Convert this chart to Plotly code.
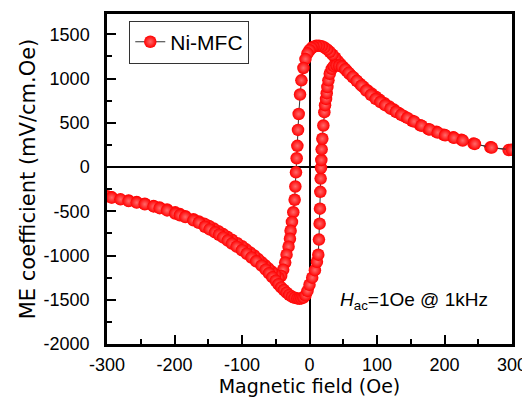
import plotly.graph_objects as go

# Descending sweep (+300 -> -300 Oe)
H_down = [295, 268, 243, 225, 213, 199, 188, 176, 164, 152, 140, 132, 125, 118, 111, 104,
          98, 92, 86, 80, 75, 70, 65, 60, 55, 50, 46, 42, 38, 34, 30, 26, 22, 18, 14, 10,
          6, 3, 0, -3, -6, -9, -12, -14, -16, -17, -18, -19, -20, -21, -22, -24, -26, -28,
          -29, -31, -34, -36, -39, -42, -46, -51, -56, -61, -66, -71, -76, -82, -88, -94,
          -100, -107, -115, -122, -128, -135, -142, -149, -156, -164, -172, -184, -192,
          -199, -211, -222, -231, -244, -256, -268, -293]
ME_down = [192, 223, 265, 310, 336, 365, 398, 428, 473, 522, 575, 612, 650, 685, 722, 760,
           795, 830, 865, 905, 940, 975, 1010, 1048, 1088, 1128, 1162, 1198, 1235, 1270,
           1302, 1330, 1352, 1366, 1372, 1370, 1360, 1345, 1320, 1285, 1220, 1120, 980, 820,
           600, 420, 240, 100, -60, -220, -370, -510, -620, -720, -810, -900, -990, -1080,
           -1160, -1230, -1250, -1215, -1180, -1145, -1110, -1075, -1040, -1000, -965, -930,
           -895, -860, -822, -788, -758, -725, -695, -665, -640, -615, -590, -555, -532,
           -512, -480, -458, -440, -415, -396, -378, -342]

# Ascending sweep (-300 -> +300 Oe)
H_up = [-300, -293, -280, -268, -256, -244, -231, -222, -211, -199, -192, -184, -172, -164,
        -155, -148, -140, -134, -128, -121, -115, -108, -100, -93, -86, -79, -71, -65, -60,
        -55, -50, -46, -42, -38, -34, -30, -26, -22, -18, -15, -12, -9, -6, -3, 0, 4, 8, 11,
        13, 14, 15, 15.5, 16, 16.5, 17, 17.5, 18, 19, 20.5, 22, 23, 24.5, 25.5, 26.5, 28, 30,
        33, 36, 40, 44, 48, 53, 58, 64, 70, 77, 84, 91, 98, 105, 112, 120, 128, 136, 145,
        155, 166, 178, 190, 201, 214, 227, 245, 270, 300]
ME_up = [-330, -345, -365, -385, -402, -420, -445, -465, -490, -525, -545, -565, -602, -630,
         -675, -705, -738, -765, -795, -830, -865, -900, -940, -980, -1022, -1065, -1115,
         -1160, -1200, -1245, -1285, -1325, -1360, -1390, -1420, -1445, -1465, -1478, -1485,
         -1488, -1485, -1475, -1450, -1400, -1330, -1250, -1165, -1070, -990, -820, -640,
         -470, -280, -130, -10, 80, 200, 320, 470, 620, 700, 770, 835, 905, 980, 1055, 1110,
         1140, 1150, 1145, 1135, 1105, 1065, 1020, 975, 920, 865, 815, 770, 735, 700, 660,
         625, 590, 555, 515, 468, 425, 390, 360, 330, 300, 262, 220, 195]

x_ticks = [-300, -200, -100, 0, 100, 200, 300]
x_labels = ["-300", "-200", "-100", "0", "100", "200", "300"]
y_ticks = [-2000, -1500, -1000, -500, 0, 500, 1000, 1500]
y_labels = ["-2000", "-1500", "-1000", "-500", "0", "500", "1000", "1500"]

marker_style = dict(size=12.5, color="#ff0000",
                    gradient=dict(type="radial", color="#ff6a6a"),
                    line=dict(width=0))
line_style = dict(color="#333333", width=1)

fig = go.Figure()
fig.add_trace(go.Scatter(x=H_down, y=ME_down, mode="lines+markers", name="Ni-MFC",
                         marker=marker_style, line=line_style, showlegend=True))
fig.add_trace(go.Scatter(x=H_up, y=ME_up, mode="lines+markers", name="Ni-MFC",
                         marker=marker_style, line=line_style, showlegend=False))

tickfont = dict(family="Arial, Liberation Sans", size=18, color="black")

fig.update_xaxes(range=[-300, 300], tickvals=x_ticks, ticktext=x_labels, ticks="inside",
                 ticklen=9, tickwidth=2, tickcolor="black",
                 minor=dict(dtick=50, ticks="inside", ticklen=5, tickwidth=2, tickcolor="black"),
                 showline=True, linewidth=2.5, linecolor="black", mirror=True,
                 showgrid=False, zeroline=True, zerolinecolor="black", zerolinewidth=2,
                 tickfont=tickfont, ticklabelstandoff=3, automargin=False,
                 title=dict(text="Magnetic field (Oe)", standoff=4,
                            font=dict(family="DejaVu Sans", size=19, color="black")))
fig.update_yaxes(range=[-2000, 1730], tickvals=y_ticks, ticktext=y_labels, ticks="inside",
                 ticklen=9, tickwidth=2, tickcolor="black",
                 minor=dict(dtick=250, ticks="inside", ticklen=5, tickwidth=2, tickcolor="black"),
                 showline=True, linewidth=2.5, linecolor="black", mirror=True,
                 showgrid=False, zeroline=True, zerolinecolor="black", zerolinewidth=2,
                 tickfont=tickfont, ticklabelstandoff=11, automargin=False,
                 title=dict(text="ME coefficient (mV/cm.Oe)", standoff=3,
                            font=dict(family="DejaVu Sans", size=21, color="black")))

fig.add_annotation(x=155, y=-1510, xref="x", yref="y", showarrow=False,
                   text="<i>H</i><sub>ac</sub>=1Oe @ 1kHz",
                   font=dict(family="Arial, Liberation Sans", size=19, color="black"))

# page body adds an 8px offset, so margins are shifted to compensate
fig.update_layout(width=530, height=400, margin=dict(l=99, r=26, t=6, b=64),
                  paper_bgcolor="white", plot_bgcolor="white",
                  legend=dict(x=0.055, y=0.98, xanchor="left", yanchor="top",
                              bgcolor="white", bordercolor="#333333", borderwidth=1,
                              font=dict(family="Arial, Liberation Sans", size=21, color="black"),
                              itemwidth=30, tracegroupgap=0))

fig.write_html("out.html")
